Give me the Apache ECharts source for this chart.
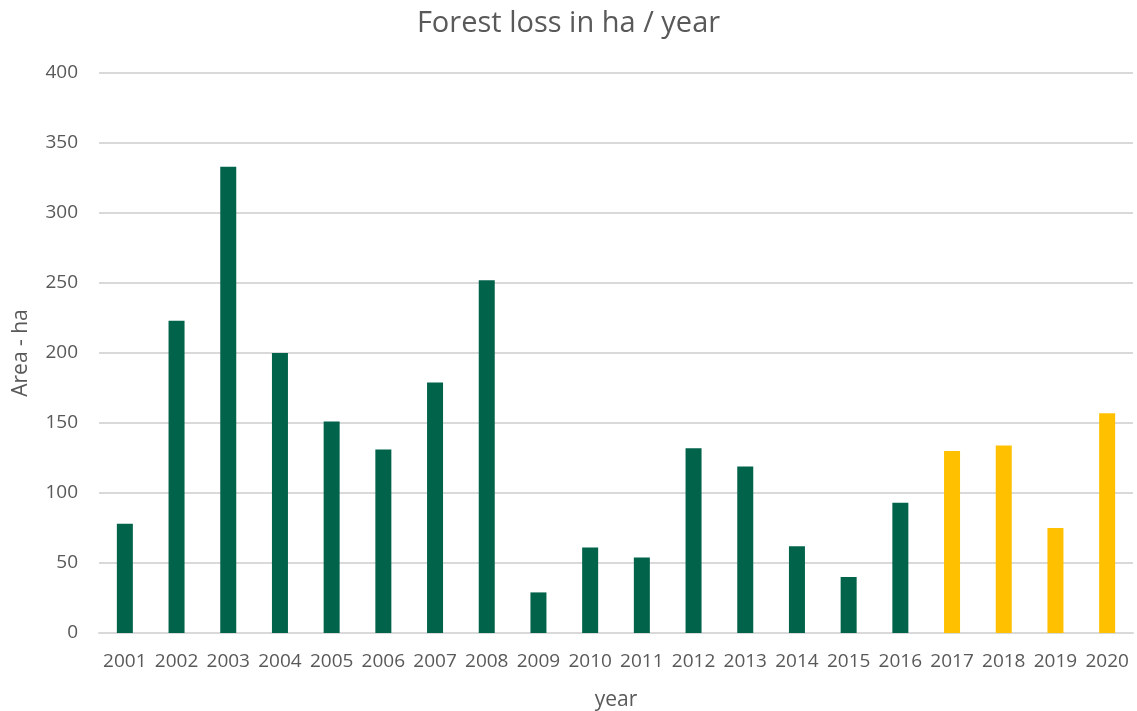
<!DOCTYPE html>
<html>
<head>
<meta charset="utf-8">
<title>Forest loss in ha / year</title>
<script src="https://cdn.jsdelivr.net/npm/echarts@6/dist/echarts.min.js"></script>
<style>
  html, body { margin: 0; padding: 0; background: #ffffff; }
  #chart { width: 1137px; height: 711px; }
</style>
</head>
<body>
<div id="chart"></div>
<script>
// Annual forest loss (hectares)
const years = ['2001', '2002', '2003', '2004', '2005', '2006', '2007', '2008', '2009', '2010',
               '2011', '2012', '2013', '2014', '2015', '2016', '2017', '2018', '2019', '2020'];
const lossHa = [78, 223, 333, 200, 151, 131, 179, 252, 29, 61,
                54, 132, 119, 62, 40, 93, 130, 134, 75, 157];
const yTicks = [0, 50, 100, 150, 200, 250, 300, 350, 400];
const recentFrom = 2017; // years from here on are drawn in the second colour

const GREEN = '#00634A';
const GOLD = '#FFC000';
const TEXT = '#595959';
const GRID = '#D9D9D9';
const FONT = '"Open Sans", "Noto Sans", sans-serif';

const chart = echarts.init(document.getElementById('chart'), null, { renderer: 'canvas' });

chart.setOption({
  animation: false,
  backgroundColor: '#ffffff',
  title: {
    text: 'Forest loss in ha / year',
    left: 'center',
    top: 4,
    textStyle: { color: TEXT, fontFamily: FONT, fontSize: 29, fontWeight: 'normal' }
  },
  grid: { left: 99, right: 4, top: 73, bottom: 78, containLabel: false, outerBoundsMode: 'none' },
  xAxis: {
    type: 'category',
    data: years,
    name: 'year',
    nameLocation: 'middle',
    nameGap: 57,
    nameTextStyle: { color: TEXT, fontFamily: FONT, fontSize: 21 },
    axisLine: { show: true, lineStyle: { color: GRID, width: 2 } },
    axisTick: { show: false },
    axisLabel: { color: TEXT, fontFamily: FONT, fontSize: 19, margin: 19, interval: 0 }
  },
  yAxis: {
    type: 'value',
    min: yTicks[0],
    max: yTicks[yTicks.length - 1],
    interval: yTicks[1] - yTicks[0],
    name: 'Area - ha',
    nameLocation: 'middle',
    nameGap: 67,
    nameRotate: 90,
    nameTextStyle: { color: TEXT, fontFamily: FONT, fontSize: 21 },
    axisLine: { show: false },
    axisTick: { show: false },
    axisLabel: { color: TEXT, fontFamily: FONT, fontSize: 19, margin: 21 },
    splitLine: { show: true, lineStyle: { color: GRID, width: 2 } }
  },
  series: [{
    type: 'bar',
    barWidth: 16,
    data: lossHa.map((v, i) => ({
      value: v,
      itemStyle: { color: Number(years[i]) >= recentFrom ? GOLD : GREEN }
    }))
  }]
});
</script>
</body>
</html>
